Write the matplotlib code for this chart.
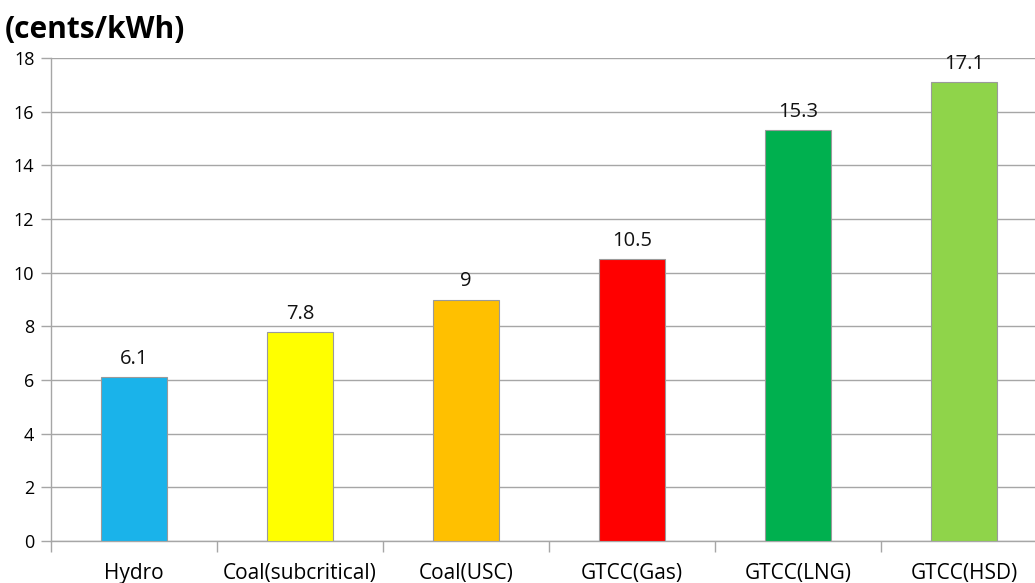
import matplotlib

matplotlib.use("Agg")
import matplotlib.pyplot as plt

categories = ["Hydro", "Coal(subcritical)", "Coal(USC)", "GTCC(Gas)", "GTCC(LNG)", "GTCC(HSD)"]
costs = [6.1, 7.8, 9, 10.5, 15.3, 17.1]
value_labels = ["6.1", "7.8", "9", "10.5", "15.3", "17.1"]
bar_colors = ["#1AB3EA", "#FFFF00", "#FFC000", "#FF0000", "#00B04F", "#8FD44A"]
y_ticks = [0, 2, 4, 6, 8, 10, 12, 14, 16, 18]

plt.rcParams["font.family"] = ["Open Sans", "DejaVu Sans"]

W, H = 1035, 583
fig = plt.figure(figsize=(W / 100, H / 100), dpi=100)
ax = fig.add_axes([51 / W, (H - 541) / H, 996 / W, (541 - 58) / H])

x = list(range(len(categories)))
ax.bar(x, costs, width=0.4, color=bar_colors, edgecolor="#9a9a9a", linewidth=0.8, zorder=3)
for xi, v, lab in zip(x, costs, value_labels):
    ax.text(xi, v + 0.3, lab, ha="center", va="bottom", fontsize=14.5, color="#111111", zorder=4)

ax.set_xlim(-0.5, 5.5)
ax.set_ylim(0, 18)
ax.set_yticks(y_ticks)
ax.yaxis.grid(True, color="#a6a6a6", linewidth=1.0, zorder=0)
ax.set_axisbelow(True)

ax.set_xticks(x)
ax.set_xticklabels(categories, fontsize=15)
ax.tick_params(axis="x", length=0, pad=16)
ax.set_xticks([i - 0.5 for i in range(len(categories) + 1)], minor=True)
ax.tick_params(axis="x", which="minor", length=8, color="#a6a6a6", width=1.0, direction="out")
ax.tick_params(axis="y", length=7, color="#a6a6a6", width=1.0, labelsize=13, pad=5)

for side in ["top", "right"]:
    ax.spines[side].set_visible(False)
for side in ["left", "bottom"]:
    ax.spines[side].set_color("#a6a6a6")
    ax.spines[side].set_linewidth(1.0)

fig.text(5 / W, 1 - 30 / H, "(cents/kWh)", fontsize=21.5, fontweight="bold", va="center", ha="left")

fig.savefig("out.png", dpi=100)
